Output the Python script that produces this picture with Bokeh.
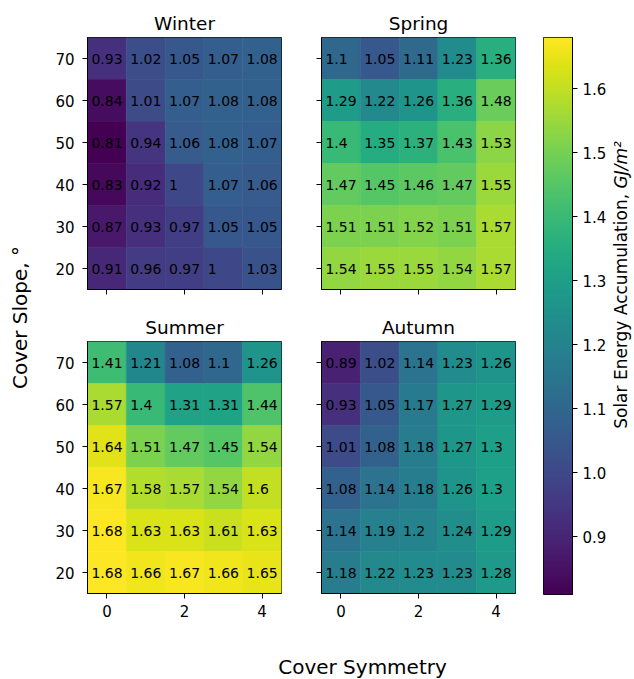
import numpy as np
from bokeh.plotting import figure
from bokeh.models import (Range1d, FixedTicker, LinearAxis, Label, ColumnDataSource,
                          LinearColorMapper, PrintfTickFormatter)
from bokeh.layouts import row, column
from bokeh.palettes import Viridis256
from bokeh.transform import transform
from bokeh.embed import file_html
from bokeh.resources import INLINE
from bokeh.core.properties import value

FONT = "DejaVu Sans"

# ---- data ----
symmetry = [0, 1, 2, 3, 4]
slopes = [70, 60, 50, 40, 30, 20]
winter = [[0.93, 1.02, 1.05, 1.07, 1.08],
          [0.84, 1.01, 1.07, 1.08, 1.08],
          [0.81, 0.94, 1.06, 1.08, 1.07],
          [0.83, 0.92, 1.00, 1.07, 1.06],
          [0.87, 0.93, 0.97, 1.05, 1.05],
          [0.91, 0.96, 0.97, 1.00, 1.03]]
spring = [[1.10, 1.05, 1.11, 1.23, 1.36],
          [1.29, 1.22, 1.26, 1.36, 1.48],
          [1.40, 1.35, 1.37, 1.43, 1.53],
          [1.47, 1.45, 1.46, 1.47, 1.55],
          [1.51, 1.51, 1.52, 1.51, 1.57],
          [1.54, 1.55, 1.55, 1.54, 1.57]]
summer = [[1.41, 1.21, 1.08, 1.10, 1.26],
          [1.57, 1.40, 1.31, 1.31, 1.44],
          [1.64, 1.51, 1.47, 1.45, 1.54],
          [1.67, 1.58, 1.57, 1.54, 1.60],
          [1.68, 1.63, 1.63, 1.61, 1.63],
          [1.68, 1.66, 1.67, 1.66, 1.65]]
autumn = [[0.89, 1.02, 1.14, 1.23, 1.26],
          [0.93, 1.05, 1.17, 1.27, 1.29],
          [1.01, 1.08, 1.18, 1.27, 1.30],
          [1.08, 1.14, 1.18, 1.26, 1.30],
          [1.14, 1.19, 1.20, 1.24, 1.29],
          [1.18, 1.22, 1.23, 1.23, 1.28]]
season_names = ["Winter", "Spring", "Summer", "Autumn"]
x_ticks = [0, 2, 4]
cbar_ticks = [0.9, 1.0, 1.1, 1.2, 1.3, 1.4, 1.5, 1.6]

all_vals = [v for g in (winter, spring, summer, autumn) for r in g for v in r]
lo, hi = min(all_vals), max(all_vals)
mapper = LinearColorMapper(palette=Viridis256, low=lo, high=hi)

FW, FH = 194, 252
TOP = 37
CB_H = 557


def style_axes(p, show_x, show_y):
    p.xaxis.ticker = FixedTicker(ticks=x_ticks)
    p.yaxis.ticker = FixedTicker(ticks=slopes)
    for ax in p.axis:
        ax.minor_tick_line_color = None
        ax.major_tick_in = 0
        ax.major_tick_out = 5
        ax.major_tick_line_color = "black"
        ax.major_tick_line_width = 1
        ax.axis_line_color = "black"
        ax.major_label_text_font = FONT
        ax.major_label_text_font_size = "15px"
        ax.major_label_text_color = "black"
    p.xaxis.major_label_standoff = 6
    p.yaxis.major_label_standoff = 8
    if not show_x:
        p.xaxis.major_label_text_color = None
    if not show_y:
        p.yaxis.major_label_text_color = None
    p.grid.visible = False
    p.outline_line_color = "black"
    p.outline_line_width = 1


def panel(name, grid, show_x, show_y, bl, br, bt, bb):
    xs, ys, vs, ts, txs = [], [], [], [], []
    for r, s in enumerate(slopes):
        for c, sym in enumerate(symmetry):
            v = grid[r][c]
            xs.append(sym); ys.append(s); vs.append(v)
            ts.append(f"{v:g}"); txs.append(sym - 0.4)
    src = ColumnDataSource(dict(x=xs, y=ys, v=vs, t=ts, tx=txs))
    p = figure(width=bl + FW + br, height=bt + FH + bb,
               x_range=Range1d(-0.5, 4.5), y_range=Range1d(15, 75),
               output_backend="svg", toolbar_location=None,
               min_border_left=bl, min_border_right=br,
               min_border_top=bt, min_border_bottom=bb, title=name)
    p.rect(x="x", y="y", width=1, height=10, source=src,
           fill_color=transform("v", mapper), line_color=transform("v", mapper),
           line_width=0.6)
    p.text(x="tx", y="y", text="t", source=src, text_align="left",
           text_baseline="middle", text_font=value(FONT), text_font_size="14px",
           text_color="black")
    p.title.align = "center"
    p.title.text_font = FONT
    p.title.text_font_size = "18.5px"
    p.title.text_font_style = "normal"
    p.title.text_color = "black"
    p.title.standoff = 7
    style_axes(p, show_x, show_y)
    return p


pw = panel(season_names[0], winter, False, True, 49, 15, TOP, 20)
ps = panel(season_names[1], spring, False, False, 25, 8, TOP, 20)
pu = panel(season_names[2], summer, True, True, 49, 15, 32, 30)
pa = panel(season_names[3], autumn, True, False, 25, 8, 32, 30)

GRID_H = TOP + FH + 20 + 32 + FH + 30  # 623
BOT = GRID_H - TOP - CB_H


def blank(w, h, y_range=None, top=0, bottom=0):
    f = figure(width=w, height=h, x_range=Range1d(0, w),
               y_range=y_range if y_range is not None else Range1d(0, h),
               output_backend="svg", toolbar_location=None,
               x_axis_location=None, y_axis_location=None,
               min_border=0, min_border_left=0, min_border_right=0,
               min_border_top=top, min_border_bottom=bottom)
    f.outline_line_color = None
    f.grid.visible = False
    return f


# y label strip (data y = pixel row of the page)
yl = blank(38, GRID_H, y_range=Range1d(TOP + CB_H, TOP), top=TOP, bottom=BOT)
yl.add_layout(Label(x=19, y=317, text="Cover Slope, °", angle=np.pi / 2,
                    text_align="center", text_baseline="middle", text_font=FONT,
                    text_font_size="20px", text_color="black"))

# colour bar
cb = figure(width=87, height=GRID_H, x_range=Range1d(0, 1), y_range=Range1d(lo, hi),
            output_backend="svg", toolbar_location=None,
            x_axis_location=None, y_axis_location=None,
            min_border_left=20, min_border_right=38, min_border_top=TOP,
            min_border_bottom=BOT)
grad = np.linspace(lo, hi, 256).reshape(-1, 1)
cb.image(image=[grad], x=0, y=lo, dw=1, dh=hi - lo, color_mapper=mapper)
cax = LinearAxis(ticker=FixedTicker(ticks=cbar_ticks),
                 formatter=PrintfTickFormatter(format="%.1f"))
cax.minor_tick_line_color = None
cax.major_tick_in = 0
cax.major_tick_out = 5
cax.major_tick_line_color = "black"
cax.axis_line_color = "black"
cax.major_label_text_font = FONT
cax.major_label_text_font_size = "15px"
cax.major_label_text_color = "black"
cax.major_label_standoff = 5
cb.add_layout(cax, "right")
cb.grid.visible = False
cb.outline_line_color = "black"
cb.outline_line_width = 1

# colour bar label strip (frame aligned with the colour bar's value axis)
cbl = blank(24, GRID_H, y_range=Range1d(lo, hi), top=TOP, bottom=BOT)
label_top = 1.518           # value level where the label ends
italic_len = 47.3 / CB_H * (hi - lo)
cbl.add_layout(Label(x=10, y=label_top, text="GJ/m²", angle=np.pi / 2,
                     text_align="right", text_baseline="middle", text_font=FONT,
                     text_font_size="17px", text_font_style="italic",
                     text_color="black"))
cbl.add_layout(Label(x=10, y=label_top - italic_len, text="Solar Energy Accumulation, ",
                     angle=np.pi / 2, text_align="right", text_baseline="middle",
                     text_font=FONT, text_font_size="17px", text_color="black"))

# x label strip
XL_H = 678 - GRID_H
xl = blank(634, XL_H)
xl.add_layout(Label(x=362, y=12, x_units="screen", y_units="screen",
                    text="Cover Symmetry", text_align="center",
                    text_baseline="middle", text_font=FONT, text_font_size="20px",
                    text_color="black"))

grid = column(row(pw, ps), row(pu, pa))
layout = column(row(yl, grid, cb, cbl), xl)

open("out.html", "w").write(file_html(layout, INLINE))
